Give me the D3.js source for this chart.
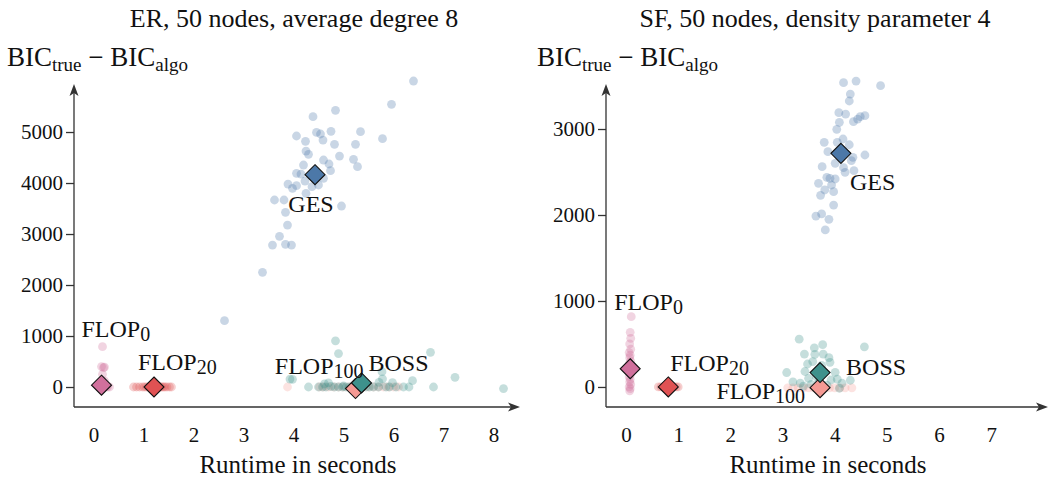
<!DOCTYPE html>
<meta charset="utf-8">
<style>
body { margin: 0; background: #fff; }
text { font-family: "Liberation Serif", "DejaVu Serif", serif; fill: #111; }
.tick text { font-size: 21px; }
</style>
<body>
<script src="https://d3js.org/d3.v7.min.js"></script>
<script>

// ---- data: [runtime s, BIC_true - BIC_algo] ----

// ER, 50 nodes, average degree 8
var erGES = [[6.40,6000],[5.96,5543],[4.84,5425],[4.39,5300],[4.46,4993],[4.54,4961],[4.75,5013],[5.34,5006],
  [4.06,4922],[4.24,4817],[4.59,4843],[4.82,4758],[5.24,4758],[5.78,4869],[4.25,4627],[4.30,4562],[4.92,4529],
  [4.60,4451],[4.71,4373],[5.20,4464],[5.28,4320],[4.20,4353],[4.74,4242],[4.06,4190],[4.15,4176],[4.60,4092],
  [3.89,3980],[3.98,3896],[4.06,3948],[4.23,4039],[4.37,3928],[4.50,3961],[4.25,3797],[3.62,3667],[3.81,3667],
  [4.96,3549],[3.84,3425],[3.88,3176],[3.72,2954],[3.58,2784],[3.84,2797],[3.96,2784],[3.38,2249],[2.62,1300]];
var erBOSS = [[4.84,905],[4.90,655],[6.74,680],[3.93,155],[3.98,150],[5.77,300],[5.78,160],[7.23,190],[6.38,124],
  [5.98,84],[5.71,92],[4.30,0],[6.80,0],[8.20,-30],[4.70,80],[4.50,0],[4.58,0],[4.65,0],[4.75,10],[4.82,0],
  [4.90,0],[4.98,0],[5.05,0],[5.12,0],[5.20,0],[5.28,0],[5.45,0],[5.52,0],[5.60,0],[5.70,0],[5.85,0],[5.92,0],
  [6.05,0],[6.20,0],[6.31,0],[5.0,20],[4.62,60]];
var erFLOP0 = [[0.18,790],[0.16,400],[0.22,390],[0.20,380],[0.18,250],[0.22,120],[0.15,60],[0.24,30],[0.28,0],
  [0.32,0],[0.12,0],[0.20,0],[0.26,10],[0.14,20]];
var erFLOP20 = [[0.80,0],[0.86,0],[0.92,0],[0.98,0],[1.02,0],[1.06,0],[1.10,0],[1.13,0],[1.16,0],[1.19,0],
  [1.22,0],[1.25,0],[1.28,0],[1.31,0],[1.34,0],[1.37,0],[1.40,0],[1.43,0],[1.47,0],[1.52,0],[1.56,0]];
var erFLOP100 = [[3.88,0],[4.52,0],[4.60,0],[4.70,0],[4.80,0],[4.90,0],[5.00,0],[5.10,0],[5.20,0],[5.30,0],
  [5.40,0],[5.50,0],[5.60,0],[5.70,0],[5.80,0],[5.90,0],[6.00,0],[6.10,0]];
var erMedians = [["GES",4.43,4163],["FLOP100",5.24,-30],["BOSS",5.36,80],["FLOP0",0.16,36],["FLOP20",1.21,0]];

// SF, 50 nodes, density parameter 4
var sfGES = [[4.17,3539],[4.41,3558],[4.88,3504],[4.30,3407],[4.28,3326],[4.08,3190],[4.21,3174],[4.58,3155],
  [4.49,3143],[4.44,3116],[4.36,3085],[4.09,3078],[4.04,2996],[3.80,2845],[4.05,2845],[4.16,2884],[4.28,2817],
  [3.87,2736],[4.58,2698],[4.35,2671],[4.32,2632],[4.01,2601],[4.17,2550],[3.76,2562],[4.37,2515],[4.20,2496],
  [3.85,2438],[3.91,2427],[4.01,2419],[3.69,2369],[3.94,2349],[3.81,2291],[3.98,2271],[3.73,2229],[3.98,2116],
  [3.64,1988],[3.75,2012],[3.89,1950],[3.82,1826]];
var sfBOSS = [[3.32,556],[3.61,455],[3.77,492],[4.57,467],[3.42,382],[3.78,382],[3.89,341],[3.48,267],[3.58,295],
  [3.91,287],[3.08,168],[3.43,180],[4.01,170],[3.20,60],[3.34,45],[3.50,100],[3.93,81],[4.30,78],[4.09,-15],
  [3.40,10],[4.14,43],[3.65,120],[3.70,60],[3.85,20],[3.55,30],[3.62,380],[3.75,250],[4.05,90]];
var sfFLOP0 = [[0.10,817],[0.08,636],[0.09,566],[0.07,500],[0.09,440],[0.06,400],[0.08,370],[0.07,340],
  [0.09,300],[0.06,270],[0.08,240],[0.07,190],[0.09,150],[0.06,120],[0.08,90],[0.07,60],[0.09,30],[0.06,0],
  [0.08,-20],[0.07,-45]];
var sfFLOP20 = [[0.62,0],[0.67,0],[0.72,0],[0.76,0],[0.80,0],[0.84,0],[0.88,0],[0.92,0],[0.96,0],[1.00,0]];
var sfFLOP100 = [[3.10,-10],[3.20,-10],[3.30,-10],[3.40,-10],[3.50,-10],[3.60,-10],[3.70,-10],[3.80,-10],
  [3.90,-10],[4.00,-10],[4.10,-10],[4.20,-10],[4.33,-10]];
var sfMedians = [["GES",4.12,2717],["FLOP100",3.72,-8],["BOSS",3.72,168],["FLOP0",0.08,212],["FLOP20",0.81,0]];

var erXTicks = [0,1,2,3,4,5,6,7,8],
    erYTicks = [0,1000,2000,3000,4000,5000],
    sfXTicks = [0,1,2,3,4,5,6,7],
    sfYTicks = [0,1000,2000,3000];

var colors = {
  GES: "#4c78a8",
  BOSS: "#3e918c",
  FLOP0: "#d0709c",
  FLOP20: "#e05253",
  FLOP100: "#f59a94"
};

// label placement relative to the median diamond, in pixels
var erLabels = {
  GES: {dx: -4, dy: 37, anchor: "middle"},
  FLOP100: {dx: 8, dy: -15, anchor: "end"},
  BOSS: {dx: 7, dy: -12, anchor: "start"},
  FLOP0: {dx: -20, dy: -48, anchor: "start"},
  FLOP20: {dx: -16, dy: -17, anchor: "start"}
};
var sfLabels = {
  GES: {dx: 9, dy: 37, anchor: "start"},
  FLOP100: {dx: -15, dy: 11, anchor: "end"},
  BOSS: {dx: 26, dy: 2, anchor: "start"},
  FLOP0: {dx: -16, dy: -59, anchor: "start"},
  FLOP20: {dx: 2, dy: -16, anchor: "start"}
};

var W = 1051, H = 480;
var svg = d3.select("body").append("svg")
    .attr("width", W)
    .attr("height", H);

var panels = [
  {title: "ER, 50 nodes, average degree 8", titleX: 294, labelX: 7,
   xr: [74, 520], xd: [-0.39, 8.53], yd: [-392, 5922], xTicks: erXTicks, yTicks: erYTicks,
   series: {GES: erGES, BOSS: erBOSS, FLOP100: erFLOP100, FLOP20: erFLOP20, FLOP0: erFLOP0},
   medians: erMedians, labels: erLabels},
  {title: "SF, 50 nodes, density parameter 4", titleX: 815, labelX: 537,
   xr: [606, 1048], xd: [-0.384, 8.09], yd: [-233, 3512], xTicks: sfXTicks, yTicks: sfYTicks,
   series: {GES: sfGES, BOSS: sfBOSS, FLOP100: sfFLOP100, FLOP20: sfFLOP20, FLOP0: sfFLOP0},
   medians: sfMedians, labels: sfLabels}
];

panels.forEach(drawPanel);

function drawPanel(p) {
  var x = d3.scaleLinear().domain(p.xd).range(p.xr),
      y = d3.scaleLinear().domain(p.yd).range([407, 85]);
  var g = svg.append("g");

  g.append("text")
      .attr("x", p.titleX).attr("y", 27)
      .attr("text-anchor", "middle")
      .style("font-size", "26px")
      .text(p.title);

  var yl = g.append("text")
      .attr("x", p.labelX).attr("y", 66)
      .style("font-size", "27px");
  yl.append("tspan").text("BIC");
  yl.append("tspan").attr("dy", 5).style("font-size", "19px").text("true");
  yl.append("tspan").attr("dy", -5).text(" \u2212 BIC");
  yl.append("tspan").attr("dy", 5).style("font-size", "19px").text("algo");

  g.append("text")
      .attr("x", (p.xr[0] + p.xr[1]) / 2 + 1).attr("y", 473)
      .attr("text-anchor", "middle")
      .style("font-size", "25px")
      .text("Runtime in seconds");

  // points
  ["GES", "FLOP100", "BOSS", "FLOP20", "FLOP0"].forEach(function(k) {
    g.append("g").selectAll("circle")
      .data(p.series[k])
      .enter().append("circle")
        .attr("cx", function(d) { return x(d[0]); })
        .attr("cy", function(d) { return y(d[1]); })
        .attr("r", 4.4)
        .style("fill", colors[k])
        .style("fill-opacity", k == "FLOP20" || k == "FLOP100" ? 0.28 : 0.3);
  });

  // axes
  var ya = g.append("g")
      .attr("transform", "translate(" + p.xr[0] + ",0)")
      .call(d3.axisLeft(y).tickValues(p.yTicks).tickFormat(d3.format("d")).tickSize(8).tickPadding(3));
  var xa = g.append("g")
      .attr("transform", "translate(0,407)")
      .call(d3.axisBottom(x).tickValues(p.xTicks).tickSize(0).tickPadding(20));
  [ya, xa].forEach(function(a) {
    a.select(".domain").remove();
    a.selectAll(".tick line").attr("stroke", "#333").attr("stroke-width", 1.3);
    a.selectAll(".tick text").attr("fill", "#111").style("font-family", "Liberation Serif");
  });

  g.append("path")
      .attr("d", "M" + p.xr[0] + ",407V90M" + p.xr[0] + ",407H" + (p.xr[1] - 5))
      .attr("fill", "none").attr("stroke", "#333").attr("stroke-width", 1.3);
  g.append("path")
      .attr("d", "M" + p.xr[0] + ",84l-4.5,12l4.5,-3l4.5,3z")
      .attr("fill", "#333");
  g.append("path")
      .attr("d", "M" + p.xr[1] + ",407l-12,-4.5l3,4.5l-3,4.5z")
      .attr("fill", "#333");

  // medians
  var s = 10;
  g.append("g").selectAll("path")
    .data(p.medians)
    .enter().append("path")
      .attr("d", function(d) {
        var cx = x(d[1]), cy = y(d[2]);
        return "M" + cx + "," + (cy - s) + "L" + (cx + s) + "," + cy + "L" + cx + "," + (cy + s) + "L" + (cx - s) + "," + cy + "Z";
      })
      .attr("fill", function(d) { return colors[d[0]]; })
      .attr("stroke", "#111").attr("stroke-width", 1.1);

  // labels
  p.medians.forEach(function(d) {
    var l = p.labels[d[0]];
    var t = g.append("text")
        .attr("x", x(d[1]) + l.dx).attr("y", y(d[2]) + l.dy)
        .attr("text-anchor", l.anchor)
        .style("font-size", "24px");
    if (d[0].indexOf("FLOP") == 0) {
      t.append("tspan").text("FLOP");
      t.append("tspan").attr("dy", 4).style("font-size", "20px").text(d[0].slice(4));
    } else {
      t.text(d[0]);
    }
  });
}

</script>
</body>
